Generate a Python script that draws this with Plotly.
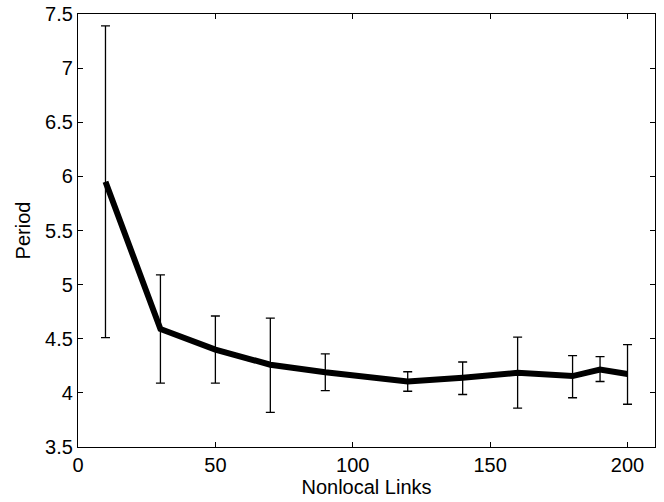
import plotly.graph_objects as go

links = [10, 30, 50, 70, 90, 120, 140, 160, 180, 190, 200]
period = [5.95, 4.59, 4.40, 4.26, 4.19, 4.105, 4.14, 4.185, 4.155, 4.215, 4.175]
err_plus = [1.44, 0.50, 0.31, 0.43, 0.17, 0.09, 0.145, 0.33, 0.19, 0.12, 0.27]
err_minus = [1.44, 0.50, 0.31, 0.44, 0.17, 0.09, 0.155, 0.325, 0.20, 0.11, 0.28]

y_ticks = [3.5, 4, 4.5, 5, 5.5, 6, 6.5, 7, 7.5]
y_labels = ["3.5", "4", "4.5", "5", "5.5", "6", "6.5", "7", "7.5"]
x_ticks = [0, 50, 100, 150, 200]
x_labels = ["0", "50", "100", "150", "200"]

fig = go.Figure()
fig.add_trace(go.Scatter(
    x=links, y=period, mode="lines",
    line=dict(color="black", width=6),
    error_y=dict(type="data", symmetric=False, array=err_plus, arrayminus=err_minus,
                 color="black", thickness=1.3, width=4.5),
    showlegend=False,
    hoverinfo="skip",
))

font = dict(family="Liberation Sans, Arial, Helvetica, sans-serif", size=20, color="black")
fig.update_layout(
    width=664, height=502,
    margin=dict(l=78, r=9, t=14, b=55),
    paper_bgcolor="white", plot_bgcolor="white",
    font=font,
    xaxis=dict(range=[0, 210], tickvals=x_ticks, ticktext=x_labels,
               ticks="inside", ticklen=5, tickcolor="black", tickwidth=1,
               showline=True, linecolor="black", linewidth=1.3, mirror="allticks",
               showgrid=False, zeroline=False, automargin=False,
               title=dict(text="Nonlocal Links", standoff=0, font=dict(size=20))),
    yaxis=dict(range=[3.5, 7.5], tickvals=y_ticks, ticktext=y_labels,
               ticks="inside", ticklen=5, tickcolor="black", tickwidth=1,
               showline=True, linecolor="black", linewidth=1.3, mirror="allticks",
               showgrid=False, zeroline=False, automargin=False,
               title=dict(text="Period", standoff=9, font=dict(size=20))),
)
fig.write_html(
    "out.html",
    config={"displayModeBar": False},
    post_script="document.body.style.margin='0';document.body.style.overflow='hidden';",
)
